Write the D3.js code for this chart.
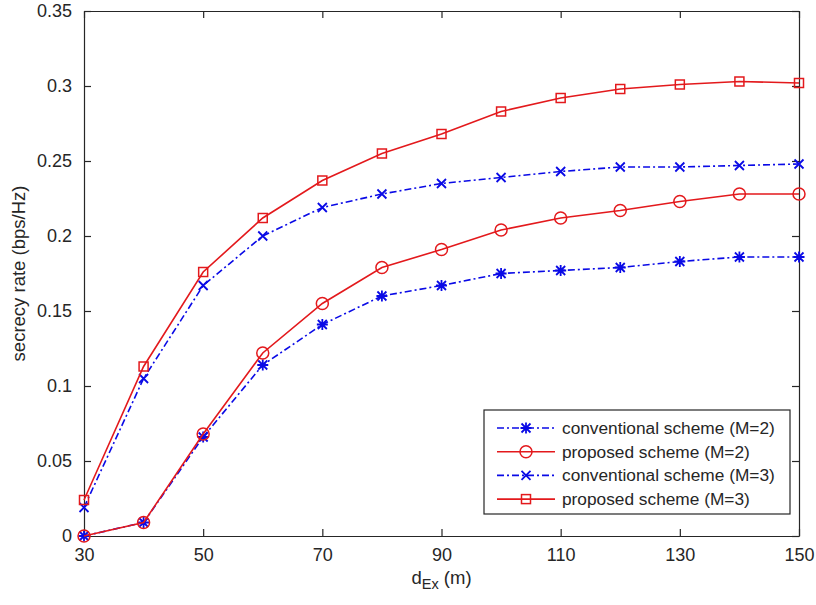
<!DOCTYPE html>
<html>
<head>
<meta charset="utf-8">
<script src="https://cdn.jsdelivr.net/npm/d3@7"></script>
<style>
  html, body { margin: 0; padding: 0; background: #fff; }
  svg { display: block; font-family: "Liberation Sans", Arial, sans-serif; }
</style>
</head>
<body>
<div id="chart"></div>
<script>
const distances = [30, 40, 50, 60, 70, 80, 90, 100, 110, 120, 130, 140, 150];
const convM2 = [0, 0.009, 0.066, 0.114, 0.141, 0.160, 0.167, 0.175, 0.177, 0.179, 0.183, 0.186, 0.186];
const propM2 = [0, 0.009, 0.068, 0.122, 0.155, 0.179, 0.191, 0.204, 0.212, 0.217, 0.223, 0.228, 0.228];
const convM3 = [0.019, 0.105, 0.167, 0.200, 0.219, 0.228, 0.235, 0.239, 0.243, 0.246, 0.246, 0.247, 0.248];
const propM3 = [0.024, 0.113, 0.176, 0.212, 0.237, 0.255, 0.268, 0.283, 0.292, 0.298, 0.301, 0.303, 0.302];
const xTicks = [30, 50, 70, 90, 110, 130, 150];
const yTicks = [0, 0.05, 0.1, 0.15, 0.2, 0.25, 0.3, 0.35];
const seriesNames = [
  "conventional scheme (M=2)",
  "proposed scheme (M=2)",
  "conventional scheme (M=3)",
  "proposed scheme (M=3)"
];

const WIDTH = 816;
const HEIGHT = 605;
const MARGIN = { top: 11, right: 17, bottom: 69, left: 84 };
const BLUE = "#0a0ae6";
const RED = "#e3191c";
const AXIS = "#262626";

const series = [
  { name: seriesNames[0], values: convM2, color: BLUE, dash: "7,3,2,3", marker: "star" },
  { name: seriesNames[1], values: propM2, color: RED, dash: null, marker: "circle" },
  { name: seriesNames[2], values: convM3, color: BLUE, dash: "7,3,2,3", marker: "x" },
  { name: seriesNames[3], values: propM3, color: RED, dash: null, marker: "square" }
];

const svg = d3.select("#chart").append("svg")
  .attr("width", WIDTH)
  .attr("height", HEIGHT);

const x = d3.scaleLinear().domain([30, 150]).range([MARGIN.left, WIDTH - MARGIN.right]);
const y = d3.scaleLinear().domain([0, 0.35]).range([HEIGHT - MARGIN.bottom, MARGIN.top]);

const fmt = (d) => (d === 0 ? "0" : String(+d.toFixed(2)));

// axes: ticks inward on all four sides, like a boxed plot
function styleAxis(g) {
  g.select(".domain").attr("stroke", AXIS).attr("stroke-width", 1.2);
  g.selectAll(".tick line").attr("stroke", AXIS).attr("stroke-width", 1.2);
  g.selectAll(".tick text").attr("fill", AXIS).attr("font-size", 18);
}

svg.append("g")
  .attr("transform", `translate(0,${y(0)})`)
  .call(d3.axisBottom(x).tickValues(xTicks).tickSizeInner(-7).tickSizeOuter(0).tickPadding(12).tickFormat(d3.format("d")))
  .call(styleAxis);

svg.append("g")
  .attr("transform", `translate(0,${y(0.35)})`)
  .call(d3.axisTop(x).tickValues(xTicks).tickSizeInner(-7).tickSizeOuter(0).tickFormat(""))
  .call(styleAxis);

svg.append("g")
  .attr("transform", `translate(${x(30)},0)`)
  .call(d3.axisLeft(y).tickValues(yTicks).tickSizeInner(-7).tickSizeOuter(0).tickPadding(12).tickFormat(fmt))
  .call(styleAxis);

svg.append("g")
  .attr("transform", `translate(${x(150)},0)`)
  .call(d3.axisRight(y).tickValues(yTicks).tickSizeInner(-7).tickSizeOuter(0).tickFormat(""))
  .call(styleAxis);

// axis labels
const xl = svg.append("text")
  .attr("x", x(90))
  .attr("y", 584)
  .attr("text-anchor", "middle")
  .attr("font-size", 18.5)
  .attr("fill", AXIS);
xl.append("tspan").text("d");
xl.append("tspan").attr("font-size", 14.5).attr("dy", 5).text("Ex");
xl.append("tspan").attr("dy", -5).text(" (m)");

svg.append("text")
  .attr("transform", `translate(25,${y(0.175)}) rotate(-90)`)
  .attr("text-anchor", "middle")
  .attr("font-size", 18.5)
  .attr("fill", AXIS)
  .text("secrecy rate (bps/Hz)");

function drawMarker(g, type, color) {
  if (type === "circle") {
    g.append("circle").attr("r", 6).attr("fill", "none").attr("stroke", color).attr("stroke-width", 1.5);
  } else if (type === "square") {
    g.append("rect").attr("x", -4.5).attr("y", -4.5).attr("width", 9).attr("height", 9)
      .attr("fill", "none").attr("stroke", color).attr("stroke-width", 1.5);
  } else if (type === "x") {
    g.append("path").attr("d", "M-4.5,-4.5L4.5,4.5M-4.5,4.5L4.5,-4.5")
      .attr("stroke", color).attr("stroke-width", 1.8).attr("fill", "none");
  } else if (type === "star") {
    g.append("path").attr("d", "M-4.5,-4.5L4.5,4.5M-4.5,4.5L4.5,-4.5M0,-5.5L0,5.5M-5.5,0L5.5,0")
      .attr("stroke", color).attr("stroke-width", 1.8).attr("fill", "none");
  }
}

const line = d3.line()
  .x((d, i) => x(distances[i]))
  .y((d) => y(d));

series.forEach((s) => {
  svg.append("path")
    .datum(s.values)
    .attr("d", line)
    .attr("fill", "none")
    .attr("stroke", s.color)
    .attr("stroke-width", 1.6)
    .attr("stroke-dasharray", s.dash);

  s.values.forEach((v, i) => {
    const g = svg.append("g").attr("transform", `translate(${x(distances[i])},${y(v)})`);
    drawMarker(g, s.marker, s.color);
  });
});

// legend
const legend = svg.append("g").attr("transform", "translate(484,410)");
legend.append("rect")
  .attr("width", 306)
  .attr("height", 104)
  .attr("fill", "#fff")
  .attr("stroke", AXIS)
  .attr("stroke-width", 1.2);

series.forEach((s, i) => {
  const row = legend.append("g").attr("transform", `translate(0,${18 + i * 23.7})`);
  row.append("line")
    .attr("x1", 13).attr("x2", 71)
    .attr("stroke", s.color)
    .attr("stroke-width", 1.6)
    .attr("stroke-dasharray", s.dash);
  drawMarker(row.append("g").attr("transform", "translate(42,0)"), s.marker, s.color);
  row.append("text")
    .attr("x", 78)
    .attr("y", 0)
    .attr("dy", "0.35em")
    .attr("font-size", 17.3)
    .attr("fill", AXIS)
    .text(s.name);
});
</script>
</body>
</html>
